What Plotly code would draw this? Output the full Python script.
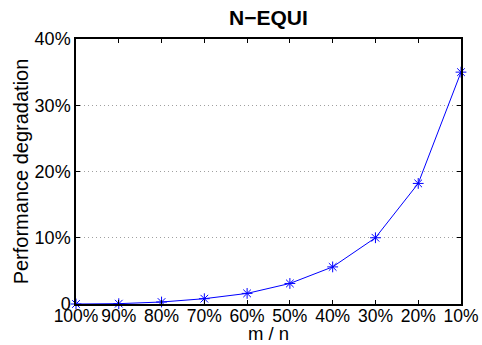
import plotly.graph_objects as go

categories = ["100%", "90%", "80%", "70%", "60%", "50%", "40%", "30%", "20%", "10%"]
degradation = [0.0, 0.05, 0.3, 0.8, 1.6, 3.1, 5.6, 10.0, 18.2, 35.0]
y_tick_vals = [0, 10, 20, 30, 40]
y_tick_text = ["0", "10%", "20%", "30%", "40%"]

x_idx = list(range(len(categories)))

fig = go.Figure()
fig.add_trace(go.Scatter(
    x=x_idx, y=degradation, mode="lines+markers",
    line=dict(color="#0000ff", width=1),
    marker=dict(symbol="asterisk-open", size=9, color="#0000ff",
                line=dict(color="#0000ff", width=1)),
    cliponaxis=False, showlegend=False,
))

font = dict(family="Liberation Sans, Arial, sans-serif", color="black")
fig.update_layout(
    width=482, height=345,
    margin=dict(l=76, r=21, t=39, b=41),
    paper_bgcolor="white", plot_bgcolor="white",
    font=dict(size=18, **font),
    title=dict(text="<b>N\u2212EQUI</b>", x=0.557, xanchor="center",
               y=0.95, yanchor="middle", font=dict(size=21, **font)),
)
fig.update_xaxes(
    range=[0, 9], tickmode="array", tickvals=x_idx, ticktext=categories,
    tickangle=0, automargin=False, ticklabelstandoff=-5,
    ticks="inside", ticklen=4, tickcolor="black", mirror="ticks",
    showline=True, linecolor="black", linewidth=1.5, showgrid=False,
    zeroline=False, tickfont=dict(size=17.5, **font),
)
fig.add_annotation(
    text="m / n", xref="paper", yref="paper", x=0.5, y=-0.113,
    xanchor="center", yanchor="middle", showarrow=False,
    font=dict(size=18.5, **font),
)
fig.update_yaxes(
    range=[0, 40], tickmode="array", tickvals=y_tick_vals, ticktext=y_tick_text,
    automargin=False,
    ticks="inside", ticklen=4, tickcolor="black", mirror="ticks",
    showline=True, linecolor="black", linewidth=1.5,
    showgrid=True, gridcolor="#a0a0a0", griddash="1px,3px", gridwidth=1,
    zeroline=False, tickfont=dict(size=18, **font),
    title=dict(text="Performance degradation", standoff=1, font=dict(size=20, **font)),
)

fig.write_html("out.html")
